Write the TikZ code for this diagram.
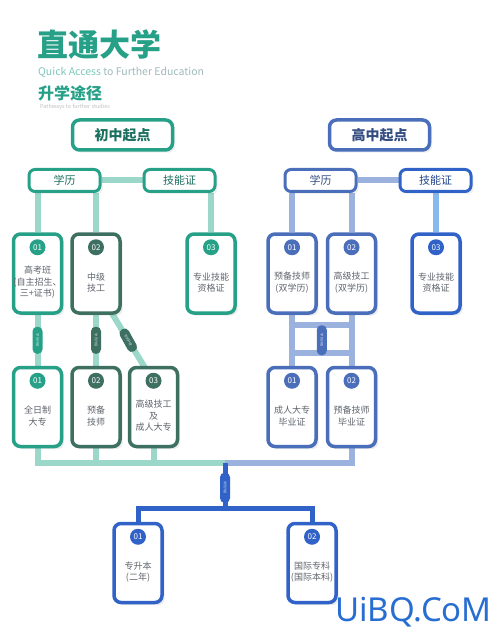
\documentclass[tikz,border=0pt]{standalone}
\usepackage{fontspec}
\setmainfont{Noto Sans CJK SC}
\newfontfamily\markfont{Noto Sans}
\usetikzlibrary{positioning, calc, backgrounds, shadows}
\definecolor{eduteal}{RGB}{38,160,135}
\definecolor{edudark}{RGB}{62,112,98}
\definecolor{tealline}{RGB}{155,216,202}
\definecolor{edublue}{RGB}{74,110,186}
\definecolor{deepblue}{RGB}{48,98,200}
\definecolor{blueline}{RGB}{155,178,222}
\definecolor{skyline}{RGB}{135,185,240}
\definecolor{cardtext}{RGB}{95,100,108}
\definecolor{subgray}{RGB}{160,185,185}
\definecolor{markblue}{RGB}{40,110,210}

\tikzset{
  headbox/.style={draw=#1, line width=3.5pt, rounded corners=7pt, fill=white,
    minimum width=100pt, minimum height=30pt, text=#1!70!black,
    font=\fontsize{14}{14}\selectfont\bfseries, drop shadow={opacity=0.12}},
  tagbox/.style={draw=#1, line width=3pt, rounded corners=6pt, fill=white,
    minimum width=71pt, minimum height=22pt, text=#1!70!black,
    font=\fontsize{11}{11}\selectfont, drop shadow={opacity=0.12}},
  card/.style={draw=#1, line width=3.5pt, rounded corners=7pt, fill=white,
    minimum width=48pt, minimum height=79pt, drop shadow={opacity=0.15}},
  num/.style={circle, fill=#1, text=white, minimum size=16pt, inner sep=0pt,
    font=\fontsize{8}{8}\selectfont},
  cardtxt/.style={align=center, text=cardtext, inner sep=0pt,
    font=\fontsize{9}{11.5}\selectfont},
  pill/.style={fill=#1, rounded corners=4.5pt, minimum width=27pt,
    minimum height=10pt, inner sep=0pt, text=white!80!#1,
    font=\fontsize{3.2}{3.2}\selectfont},
  link/.style={draw=#1, line width=6pt},
}

% card with number badge and text
\newcommand{\edcard}[6]{%
  \node[card=#4] (#1) at (#2,#3) {};
  \node[num=#4] (#1n) at ($(#1.north)+(0,15)$) {#5};
  \node[cardtxt] (#1t) at ($(#1.center)+(0,9)$) {#6};
}

\begin{document}
\begin{tikzpicture}[x=1pt, y=-1pt]
  \useasboundingbox (0,0) rectangle (500,636);

  % titles
  \node[anchor=west, inner sep=0pt, text=eduteal,
    font=\fontsize{31}{31}\selectfont\bfseries] (title) at (37,45) {直通大学};
  \node[anchor=west, inner sep=0pt, text=subgray,
    font=\fontsize{10.5}{10.5}\selectfont] (subtitle) at (38,72)
    {\textcolor{eduteal!60}{Quick Access} to Further Education};
  \node[anchor=west, inner sep=0pt, text=eduteal,
    font=\fontsize{16}{16}\selectfont\bfseries] (route) at (38,93) {升学途径};
  \node[anchor=west, inner sep=0pt, text=gray!50,
    font=\fontsize{5.5}{5.5}\selectfont] (routesub) at (40,107) {Pathways to further studies};

  % headers and tags
  \node[headbox=eduteal] (hdL) at (122.5,135) {初中起点};
  \node[headbox=edublue] (hdR) at (379.5,135) {高中起点};
  \node[tagbox=eduteal] (xlL) at (64.5,180.5) {学历};
  \node[tagbox=eduteal] (jnL) at (179.5,180.5) {技能证};
  \node[tagbox=edublue] (xlR) at (320.5,180.5) {学历};
  \node[tagbox=deepblue] (jnR) at (435.5,180.5) {技能证};

  % first row
  \edcard{cL1}{37.5}{273.5}{eduteal}{01}{高考班\\(自主招生、\\三+证书)}
  \edcard{cL2}{96}{273.5}{edudark}{02}{中级\\技工}
  \edcard{cL3}{211}{273.5}{eduteal}{03}{专业技能\\资格证}
  \edcard{cR1}{292}{273.5}{edublue}{01}{预备技师\\(双学历)}
  \edcard{cR2}{351.5}{273.5}{edublue}{02}{高级技工\\(双学历)}
  \edcard{cR3}{436}{273.5}{deepblue}{03}{专业技能\\资格证}

  % second row
  \edcard{dL1}{37.5}{407}{eduteal}{01}{全日制\\大专}
  \edcard{dL2}{96}{407}{edudark}{02}{预备\\技师}
  \edcard{dL3}{153.5}{407}{edudark}{03}{高级技工\\及\\成人大专}
  \edcard{dR1}{292}{407}{edublue}{01}{成人大专\\毕业证}
  \edcard{dR2}{351.5}{407}{edublue}{02}{预备技师\\毕业证}

  % third row
  \edcard{eB1}{138}{563}{deepblue}{01}{专升本\\(二年)}
  \edcard{eB2}{312}{563}{deepblue}{02}{国际专科\\(国际本科)}

  \coordinate (bus) at (225,463);
  \coordinate (fork) at (225,508);
  \coordinate (barA) at (322,325);
  \coordinate (barB) at (322,353);
  \coordinate (diagA) at ($(cL2.south)+(15,-3)$);
  \coordinate (diagB) at ($(dL3.north)+(-8,3)$);

  % connectors
  \begin{scope}[on background layer]
    \draw[link=tealline] (xlL) -- (jnL);
    \draw[link=tealline] (xlL.south -| cL1) -- (cL1.north);
    \draw[link=tealline] (xlL.south -| cL2) -- (cL2.north);
    \draw[link=tealline] (jnL.south -| cL3) -- (cL3.north);
    \draw[link=tealline] (cL1) -- (dL1);
    \draw[link=tealline] (cL2) -- (dL2);
    \draw[link=tealline] (diagA) -- (diagB);
    \draw[link=tealline] (dL1) |- (bus);
    \draw[link=tealline] (dL2) -- (dL2 |- bus);
    \draw[link=tealline] (dL3) -- (dL3 |- bus);

    \draw[link=blueline] (xlR) -- (jnR);
    \draw[link=blueline] (xlR.south -| cR1) -- (cR1.north);
    \draw[link=blueline] (xlR.south -| cR2) -- (cR2.north);
    \draw[link=skyline] (jnR.south -| cR3) -- (cR3.north);
    \draw[link=blueline] (cR1) -- (dR1);
    \draw[link=blueline] (cR2) -- (dR2);
    \draw[link=blueline] (cR1 |- barA) -- (cR2 |- barA);
    \draw[link=blueline] (cR1 |- barB) -- (cR2 |- barB);
    \draw[link=blueline] (dR2) |- (bus);

    \draw[link=deepblue, line width=5pt] (bus) -- (fork);
    \draw[link=deepblue, line width=5pt] (eB1) |- (fork) -| (eB2);
  \end{scope}

  % upgrade pills
  \node[pill=eduteal, rotate=-90] (pL1) at ($(cL1.south)!0.5!(dL1.north)$) {学历升级};
  \node[pill=edudark, rotate=-90] (pL2) at ($(cL2.south)!0.5!(dL2.north)$) {学历升级};
  \node[pill=edudark, rotate=-61, minimum width=25pt] (pL3) at ($(diagA)!0.5!(diagB)$) {学历升级};
  \node[pill=edublue, rotate=-90, minimum width=30pt] (pR) at ($(cR1.south)!0.5!(dR2.north)$) {学历升级};
  \node[pill=deepblue, rotate=-90, minimum width=30pt] (pB) at ($(bus)!0.55!(fork)$) {学历升级};

  % watermark
  \node[anchor=east, inner sep=0pt, text=markblue,
    font=\markfont\fontsize{33}{33}\selectfont] (mark) at (492,612) {UiBQ.CoM};
\end{tikzpicture}
\end{document}
